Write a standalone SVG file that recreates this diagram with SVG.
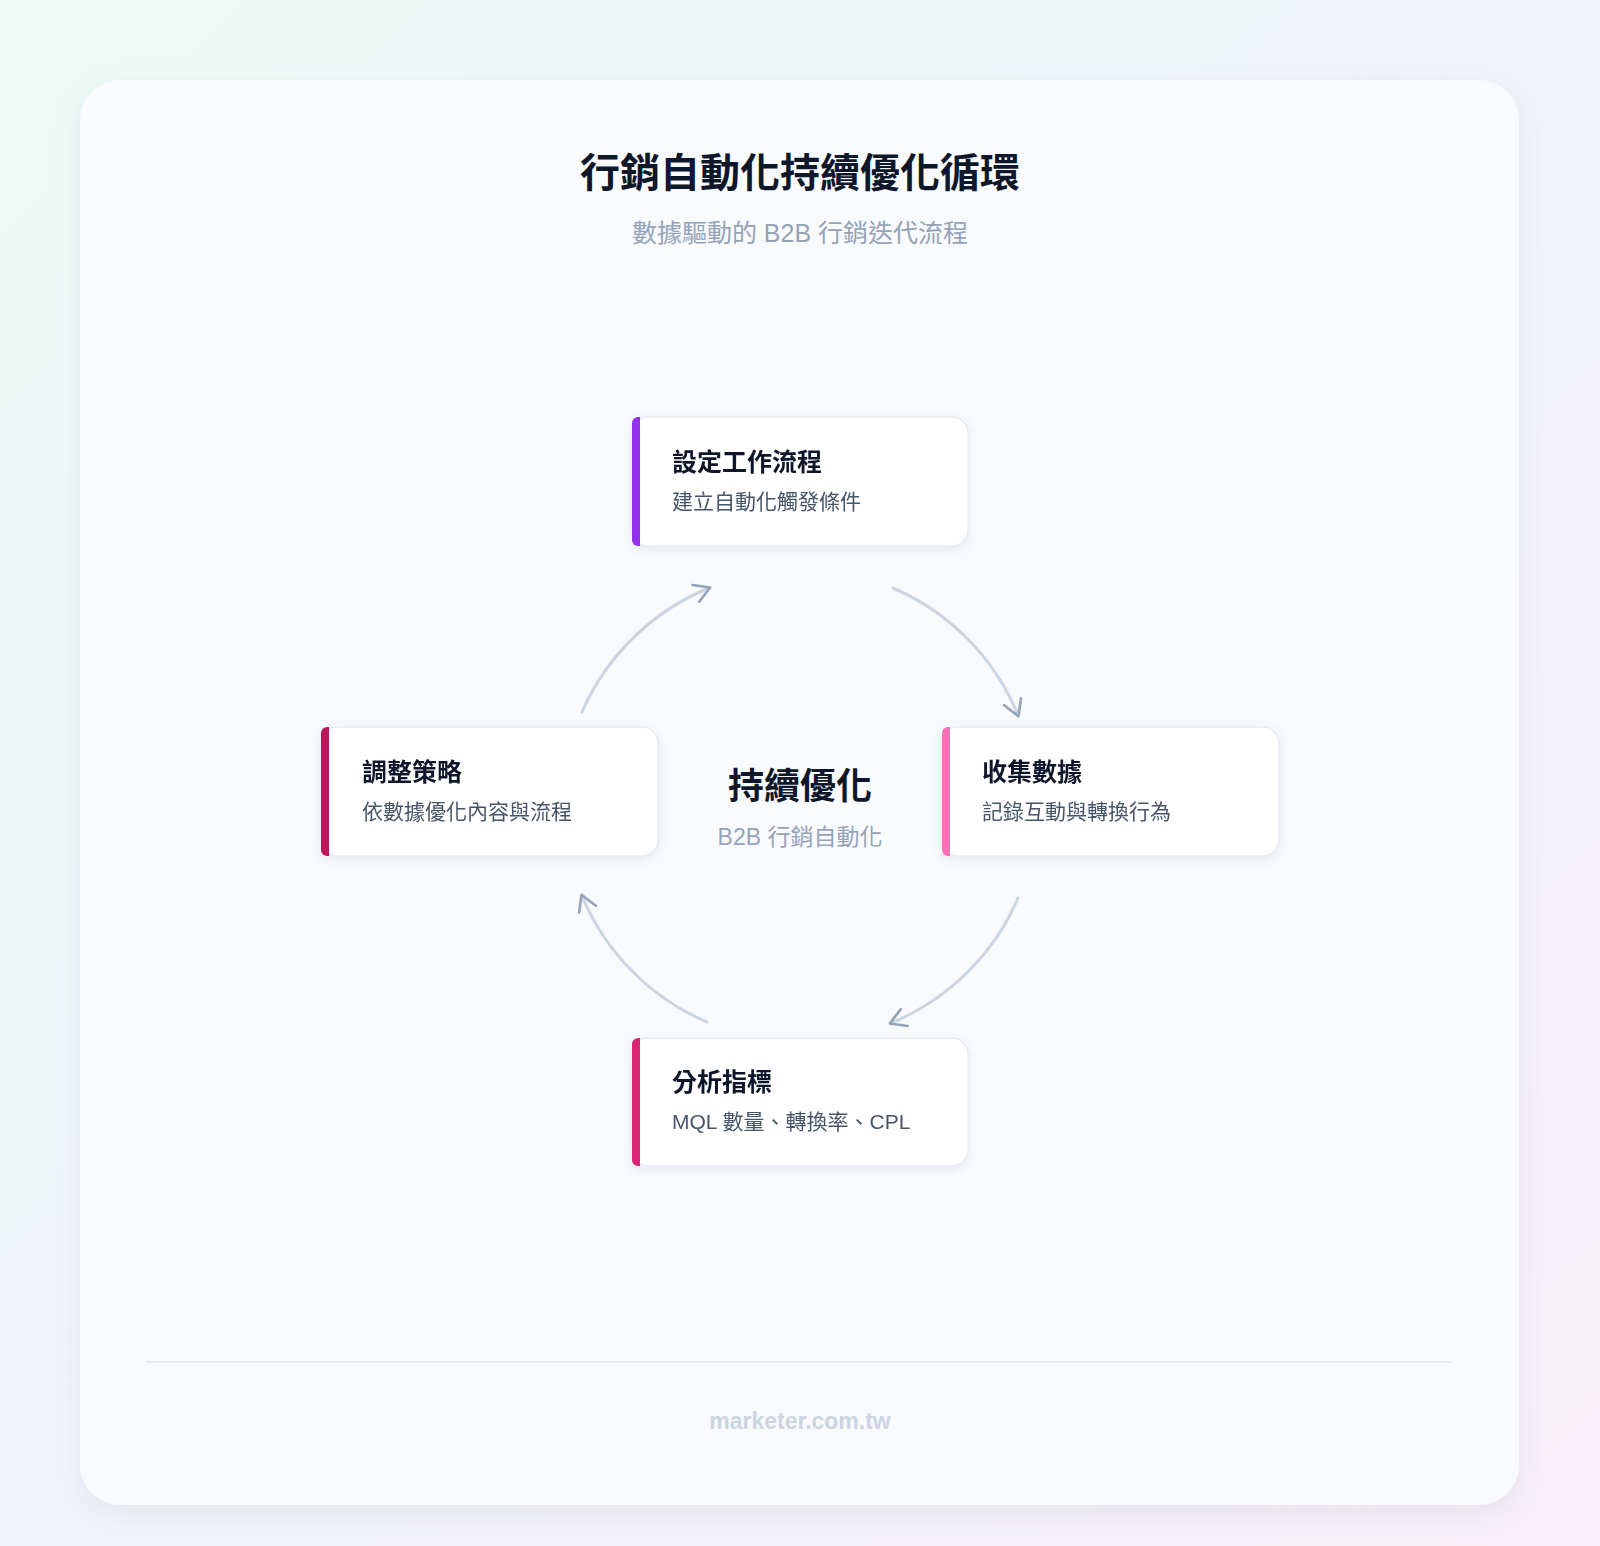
<svg xmlns="http://www.w3.org/2000/svg" width="1600" height="1546" viewBox="0 0 1600 1546">
<defs>
<linearGradient id="bg" x1="0" y1="0" x2="1" y2="1"><stop offset="0" stop-color="#eefbf6"/><stop offset="0.5" stop-color="#f1f4fa"/><stop offset="1" stop-color="#f8f0f8"/></linearGradient>
<filter id="sh" x="-10%" y="-10%" width="120%" height="130%"><feDropShadow dx="0" dy="8" stdDeviation="14" flood-color="#64748b" flood-opacity="0.12"/></filter>
<filter id="nsh" x="-10%" y="-20%" width="120%" height="150%"><feDropShadow dx="0" dy="3" stdDeviation="5" flood-color="#64748b" flood-opacity="0.12"/></filter>
<marker id="ar" viewBox="0 0 20 20" refX="14" refY="10" markerWidth="26" markerHeight="26" orient="auto" markerUnits="userSpaceOnUse"><path d="M3 3 L15 10 L3 17" fill="none" stroke="#94a3b8" stroke-width="2" stroke-linecap="round" stroke-linejoin="round"/></marker>
<style>
text{font-family:"Liberation Sans","Noto Sans CJK TC",sans-serif}
.nb{fill:#fff;stroke:#e8ecf2;stroke-width:1.5}
.nt{font-size:25px;font-weight:700;fill:#0f172a}
.ns{font-size:21px;fill:#475569}
.cn{fill:none;stroke:#cbd5e1;stroke-width:3;stroke-linecap:round;marker-end:url(#ar)}
</style>
</defs>
<rect width="1600" height="1546" fill="url(#bg)"/>
<rect x="80" y="80" width="1439" height="1425" rx="40" fill="#f9fafc" filter="url(#sh)"/>
<text x="800" y="187" text-anchor="middle" font-size="40" font-weight="700" fill="#0f172a">行銷自動化持續優化循環</text>
<text x="800" y="242" text-anchor="middle" font-size="25" fill="#94a3b8">數據驅動的 B2B 行銷迭代流程</text>
<g id="connectors">
<path class="cn" d="M893 588 A236 236 0 0 1 1018 715"/>
<path class="cn" d="M1018 898 A236 236 0 0 1 891 1023"/>
<path class="cn" d="M707 1022 A236 236 0 0 1 582 896"/>
<path class="cn" d="M582 712 A236 236 0 0 1 709 588"/>
</g>
<g id="center">
<text x="800" y="799" text-anchor="middle" font-size="36" font-weight="700" fill="#0f172a">持續優化</text>
<text x="800" y="845" text-anchor="middle" font-size="23" fill="#94a3b8">B2B 行銷自動化</text>
</g>
<g id="n1" filter="url(#nsh)"><rect class="nb" x="632" y="417" width="336" height="129" rx="16"/><path d="M640 417 h-2 a6 6 0 0 0 -6 6 v117 a6 6 0 0 0 6 6 h2z" fill="#9333ea"/>
<text class="nt" x="672" y="471">設定工作流程</text><text class="ns" x="672" y="509">建立自動化觸發條件</text></g>
<g id="n2" filter="url(#nsh)"><rect class="nb" x="942" y="727" width="337" height="129" rx="16"/><path d="M950 727 h-2 a6 6 0 0 0 -6 6 v117 a6 6 0 0 0 6 6 h2z" fill="#f472b6"/>
<text class="nt" x="982" y="781">收集數據</text><text class="ns" x="982" y="819">記錄互動與轉換行為</text></g>
<g id="n3" filter="url(#nsh)"><rect class="nb" x="632" y="1038" width="336" height="128" rx="16"/><path d="M640 1038 h-2 a6 6 0 0 0 -6 6 v116 a6 6 0 0 0 6 6 h2z" fill="#db2777"/>
<text class="nt" x="672" y="1091">分析指標</text><text class="ns" x="672" y="1129">MQL 數量、轉換率、CPL</text></g>
<g id="n4" filter="url(#nsh)"><rect class="nb" x="321" y="727" width="337" height="129" rx="16"/><path d="M329 727 h-2 a6 6 0 0 0 -6 6 v117 a6 6 0 0 0 6 6 h2z" fill="#be185d"/>
<text class="nt" x="362" y="781">調整策略</text><text class="ns" x="362" y="819">依數據優化內容與流程</text></g>
<line x1="146" y1="1362" x2="1452" y2="1362" stroke="#e2e8f0" stroke-width="1.5"/>
<text x="800" y="1429" text-anchor="middle" font-size="23" font-weight="700" fill="#cbd5e1">marketer.com.tw</text>
</svg>
